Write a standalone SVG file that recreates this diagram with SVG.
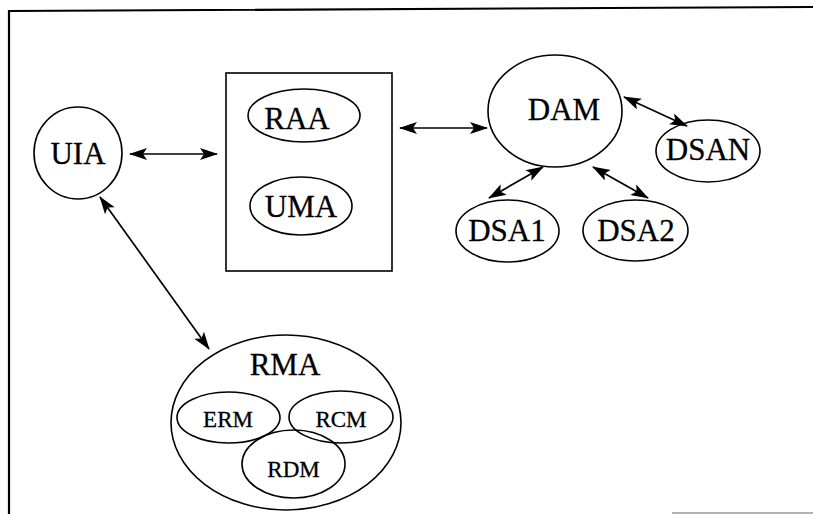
<svg xmlns="http://www.w3.org/2000/svg" width="813" height="514" viewBox="0 0 813 514">
  <style>
    .shape { fill: none; stroke: #000; stroke-width: 1.6; }
    .frame { fill: none; stroke: #000; stroke-width: 2.2; }
    .link { fill: none; stroke: #000; stroke-width: 1.7; marker-start: url(#head); marker-end: url(#head); }
    .lbl { font-family: "Liberation Serif", "Times New Roman", serif; fill: #000; stroke: #000; stroke-width: 0.3; text-anchor: middle; }
    .big { font-size: 31px; }
    .small { font-size: 23px; }
  </style>
  <defs>
    <marker id="head" viewBox="0 0 18 12" refX="17" refY="6" markerWidth="18" markerHeight="12" markerUnits="userSpaceOnUse" orient="auto-start-reverse">
      <path d="M0,0 L18,6 L0,12 L4,6 Z" fill="#000"/>
    </marker>
  </defs>

  <rect width="813" height="514" fill="#fff"/>

  <!-- page border -->
  <g id="border">
    <polyline class="frame" points="9,514 9,11 813,7"/>
    <line x1="672" y1="513" x2="813" y2="513" stroke="#999" stroke-width="1.5"/>
  </g>

  <g id="uia">
    <ellipse class="shape" cx="78" cy="153" rx="44" ry="46"/>
    <text class="lbl big" x="78" y="164">UIA</text>
  </g>

  <g id="server-box">
    <rect class="shape" x="226" y="73" width="166" height="198"/>
    <g id="raa">
      <ellipse class="shape" cx="304" cy="115.5" rx="56" ry="26.5"/>
      <text class="lbl big" x="297" y="129">RAA</text>
    </g>
    <g id="uma">
      <ellipse class="shape" cx="301" cy="206" rx="51" ry="29"/>
      <text class="lbl big" x="301" y="217">UMA</text>
    </g>
  </g>

  <g id="dam">
    <ellipse class="shape" cx="555" cy="111" rx="67" ry="56"/>
    <text class="lbl big" x="564" y="120">DAM</text>
  </g>

  <g id="dsan">
    <ellipse class="shape" cx="708" cy="151" rx="52" ry="31"/>
    <text class="lbl big" x="708" y="160">DSAN</text>
  </g>

  <g id="dsa1">
    <ellipse class="shape" cx="507.5" cy="231" rx="51.5" ry="31"/>
    <text class="lbl big" x="507" y="241">DSA1</text>
  </g>

  <g id="dsa2">
    <ellipse class="shape" cx="635.5" cy="230.5" rx="52.5" ry="30.5"/>
    <text class="lbl big" x="636" y="241">DSA2</text>
  </g>

  <g id="rma">
    <ellipse class="shape" cx="286" cy="422.5" rx="115" ry="87.5"/>
    <text class="lbl big" x="285" y="375">RMA</text>
    <g id="erm">
      <ellipse class="shape" cx="228.5" cy="417.5" rx="51.5" ry="25.5"/>
      <text class="lbl small" x="228" y="427">ERM</text>
    </g>
    <g id="rcm">
      <ellipse class="shape" cx="341" cy="417" rx="52" ry="26"/>
      <text class="lbl small" x="341" y="427">RCM</text>
    </g>
    <g id="rdm">
      <ellipse class="shape" cx="293.5" cy="464" rx="51.5" ry="34"/>
      <text class="lbl small" x="293.5" y="477">RDM</text>
    </g>
  </g>

  <g id="connectors">
    <line class="link" x1="130" y1="154" x2="217" y2="154"/>
    <line class="link" x1="400" y1="128" x2="487" y2="128"/>
    <line class="link" x1="100" y1="197" x2="209" y2="349"/>
    <line class="link" x1="624" y1="97" x2="687" y2="126"/>
    <line class="link" x1="543" y1="167" x2="489" y2="198"/>
    <line class="link" x1="593" y1="167" x2="648" y2="198"/>
  </g>
</svg>
